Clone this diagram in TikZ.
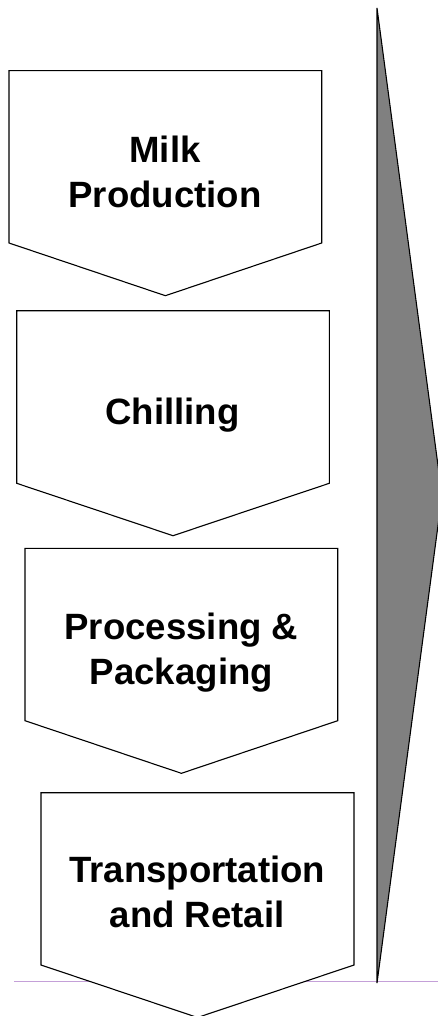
\documentclass[tikz,border=0pt]{standalone}
\usepackage{fontspec}
\setmainfont{Liberation Sans}
\definecolor{rulepurple}{RGB}{196,160,216}
\definecolor{wedgegray}{RGB}{128,128,128}
\begin{document}
\begin{tikzpicture}[x=1pt,y=-1pt,
  chev/.style={draw=black,line width=1.1pt,fill=white,line join=miter},
  wedge/.style={draw=black,line width=1.1pt,fill=wedgegray,line join=miter},
  lbl/.style={font=\fontsize{36.6}{45}\selectfont\bfseries,align=center,anchor=base,inner sep=0pt}]
\useasboundingbox (0,0) rectangle (438,1016);
\begin{scope}
\clip (0,0) rectangle (438,1016);
\coordinate (ruleL) at (14,981.7);
\coordinate (ruleR) at (440,981.7);
\draw[rulepurple,line width=0.9pt] (ruleL) -- (ruleR);
\draw[wedge] (377,8) -- (442,495.5) -- (377,983) -- cycle;
\draw[chev] (9,70.7) -- (321.7,70.7) -- (321.7,243) -- (165.4,295.7) -- (9,243) -- cycle;
\draw[chev] (16.7,310.7) -- (329.3,310.7) -- (329.3,483.3) -- (173,535.7) -- (16.7,483.3) -- cycle;
\draw[chev] (25,548.3) -- (337.7,548.3) -- (337.7,720.7) -- (181.4,773.3) -- (25,720.7) -- cycle;
\draw[chev] (41,792.7) -- (354,792.7) -- (354,965) -- (197.5,1017.5) -- (41,965) -- cycle;
\end{scope}
\node[lbl] (t1) at (165,207.3) {Milk\\Production};
\node[lbl] (t2) at (172.5,424.3) {Chilling};
\node[lbl] (t3) at (181.4,684.5) {Processing \&\\Packaging};
\node[lbl] (t4) at (197.2,927.7) {Transportation\\and Retail};
\end{tikzpicture}
\end{document}
